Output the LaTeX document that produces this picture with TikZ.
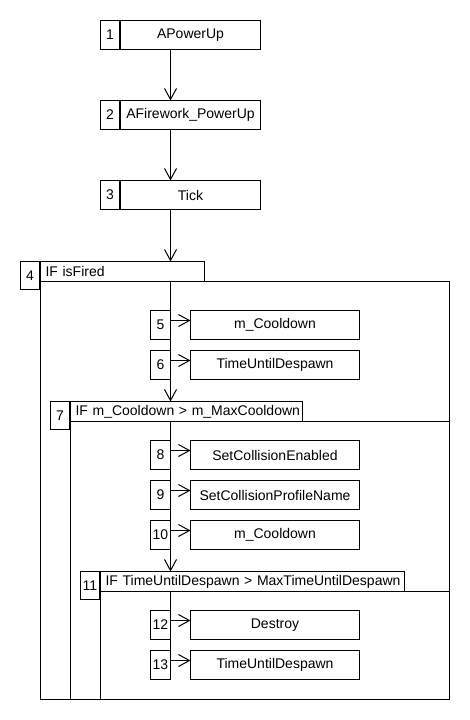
\documentclass[tikz,border=0pt]{standalone}
\usepackage{fontspec}
\setmainfont{Liberation Sans}
\usetikzlibrary{arrows.meta}
\begin{document}
\begin{tikzpicture}[x=1pt,y=-1pt,
  every node/.style={font=\fontsize{14}{16}\selectfont, draw, line width=1pt,
    inner sep=0pt, outer sep=0pt, anchor=north west},
  numbox/.style={minimum width=19pt, minimum height=29pt},
  callbox/.style={minimum width=#1, minimum height=29pt},
  framebox/.style={minimum width=19pt, minimum height=28pt},
  header/.style={minimum height=20pt, inner xsep=5pt, text width=#1, align=left,
    execute at begin node={\mbox\bgroup}, execute at end node={\egroup}},
  body/.style 2 args={minimum width=#1, minimum height=#2},
  arr/.style={line width=1pt, -{Straight Barb[length=11pt,width=12pt]}},
  link/.style={line width=1pt}]
\useasboundingbox (0,0) rectangle (470,720);
\begin{scope}[xshift=0.5pt,yshift=-0.5pt]
  \coordinate (sp) at (170,0);

  % top-level calls
  \node[numbox] (n1) at (100,20) {1};
  \node[callbox=140pt] (c1) at (120,20) {APowerUp};
  \node[numbox] (n2) at (100,100) {2};
  \node[callbox=140pt] (c2) at (120,100) {AFirework\_PowerUp};
  \node[numbox] (n3) at (100,180) {3};
  \node[callbox=140pt] (c3) at (120,180) {Tick};

  % IF isFired
  \node[body={409pt}{418pt}] (f4) at (40,281) {};
  \node[header=154pt] (h4) at (40,261) {IF isFired};
  \node[framebox] (n4) at (20,261) {4};

  \node[numbox, minimum width=20pt] (n5) at (150,310) {5};
  \node[callbox=169pt] (c5) at (190,310) {m\_Cooldown};
  \node[numbox, minimum width=20pt] (n6) at (150,350) {6};
  \node[callbox=169pt] (c6) at (190,350) {TimeUntilDespawn};

  % IF m_Cooldown > m_MaxCooldown
  \node[body={379pt}{278pt}] (f7) at (70,421) {};
  \node[header=222pt] (h7) at (70,401) {IF m\_Cooldown > m\_MaxCooldown};
  \node[framebox] (n7) at (50,401) {7};

  \node[numbox, minimum width=20pt] (n8) at (150,440) {8};
  \node[callbox=169pt] (c8) at (190,440) {SetCollisionEnabled};
  \node[numbox, minimum width=20pt] (n9) at (150,480) {9};
  \node[callbox=169pt] (c9) at (190,480) {SetCollisionProfileName};
  \node[numbox, minimum width=20pt] (n10) at (150,520) {10};
  \node[callbox=169pt] (c10) at (190,520) {m\_Cooldown};

  % IF TimeUntilDespawn > MaxTimeUntilDespawn
  \node[body={349pt}{108pt}] (f11) at (100,591) {};
  \node[header=294pt] (h11) at (100,571) {IF TimeUntilDespawn > MaxTimeUntilDespawn};
  \node[framebox] (n11) at (80,571) {11};

  \node[numbox, minimum width=20pt] (n12) at (150,610) {12};
  \node[callbox=169pt] (c12) at (190,610) {Destroy};
  \node[numbox, minimum width=20pt] (n13) at (150,650) {13};
  \node[callbox=169pt] (c13) at (190,650) {TimeUntilDespawn};

  % sequence flow
  \draw[arr] (c1.south -| sp) -- (c2.north -| sp);
  \draw[arr] (c2.south -| sp) -- (c3.north -| sp);
  \draw[arr] (c3.south -| sp) -- (h4.north -| sp);
  \draw[arr] (h4.south -| sp) -- (h7.north -| sp);
  \draw[arr] (h7.south -| sp) -- (h11.north -| sp);
  \draw[link] (h11.south -| sp) -- ([yshift=-10pt]n13.north east);

  % branches to the calls
  \foreach \k in {5,6,8,9,10,12,13}
    \draw[arr] ([yshift=-10pt]n\k.north east) -- ([yshift=-10pt]c\k.north west);
\end{scope}
\end{tikzpicture}
\end{document}
